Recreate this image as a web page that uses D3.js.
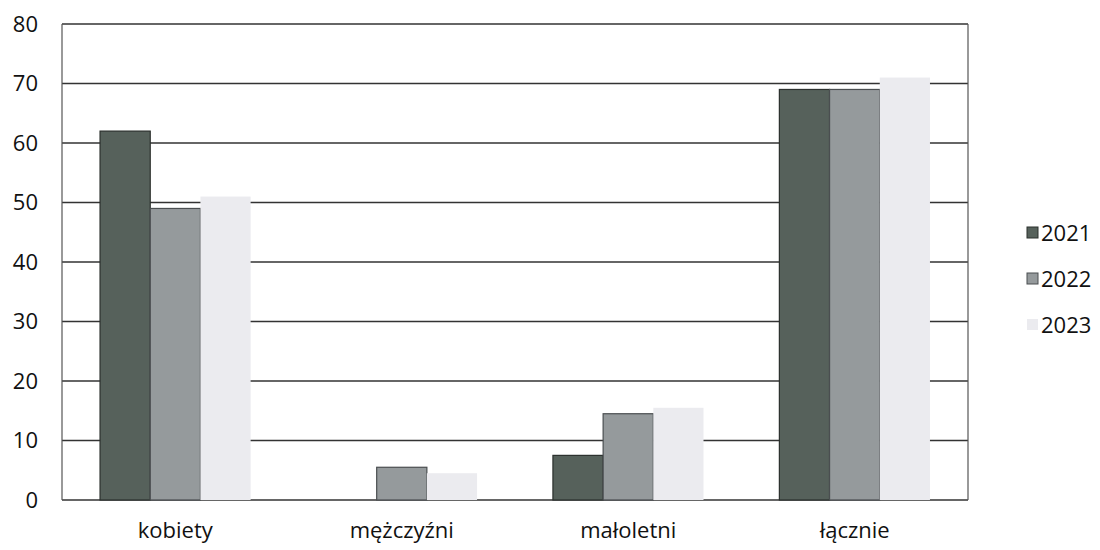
<!DOCTYPE html>
<html>
<head>
<meta charset="utf-8">
<script src="https://cdn.jsdelivr.net/npm/d3@7"></script>
<style>
  body { margin: 0; background: #fff; }
  text { font-family: "Open Sans", "Noto Sans", sans-serif; fill: #111; }
</style>
</head>
<body>
<div id="chart"></div>
<script>
var categories = ["kobiety", "mężczyźni", "małoletni", "łącznie"];
var years = ["2021", "2022", "2023"];
var v2021 = [62, 0, 7.5, 69];
var v2022 = [49, 5.5, 14.5, 69];
var v2023 = [51, 4.5, 15.5, 71];
var yTicks = [0, 10, 20, 30, 40, 50, 60, 70, 80];

var series = [v2021, v2022, v2023];
var colors = ["#56615b", "#959a9c", "#ebebef"];
var strokes = ["#2b302d", "#4a4e50", "none"];

var width = 1100, height = 550;
var margin = {left: 62, right: 132, top: 24, bottom: 50};

var svg = d3.select("#chart").append("svg")
    .attr("width", width)
    .attr("height", height);

var x0 = d3.scaleBand()
    .domain(categories)
    .range([margin.left, width - margin.right])
    .paddingInner(0.335)
    .paddingOuter(0.168);

var x1 = d3.scaleBand()
    .domain(years)
    .range([0, x0.bandwidth()]);

var y = d3.scaleLinear()
    .domain([0, 80])
    .range([height - margin.bottom, margin.top]);

// gridlines
svg.append("g")
    .selectAll("line")
    .data(yTicks)
  .enter().append("line")
    .attr("x1", margin.left)
    .attr("x2", width - margin.right)
    .attr("y1", function (d) { return y(d); })
    .attr("y2", function (d) { return y(d); })
    .attr("stroke", "#333")
    .attr("stroke-width", 1.5);

// frame sides
svg.append("line")
    .attr("x1", margin.left).attr("x2", margin.left)
    .attr("y1", y(80)).attr("y2", y(0))
    .attr("stroke", "#555").attr("stroke-width", 1.2);
svg.append("line")
    .attr("x1", width - margin.right).attr("x2", width - margin.right)
    .attr("y1", y(80)).attr("y2", y(0))
    .attr("stroke", "#555").attr("stroke-width", 1.2);

// bars
var groups = svg.append("g")
    .selectAll("g")
    .data(categories)
  .enter().append("g")
    .attr("transform", function (d) { return "translate(" + x0(d) + ",0)"; });

groups.selectAll("rect")
    .data(function (d, i) {
        return years.map(function (yr, j) { return {year: yr, j: j, value: series[j][i]}; });
    })
  .enter().append("rect")
    .filter(function (d) { return d.value > 0; })
    .attr("x", function (d) { return x1(d.year); })
    .attr("y", function (d) { return y(d.value); })
    .attr("width", x1.bandwidth())
    .attr("height", function (d) { return y(0) - y(d.value); })
    .attr("fill", function (d) { return colors[d.j]; })
    .attr("stroke", function (d) { return strokes[d.j]; })
    .attr("stroke-width", 1.2);

// y tick labels
svg.append("g")
    .selectAll("text")
    .data(yTicks)
  .enter().append("text")
    .attr("x", 38)
    .attr("y", function (d) { return y(d); })
    .attr("dy", "0.35em")
    .attr("text-anchor", "end")
    .style("font-size", "22px")
    .text(function (d) { return d; });

// category labels
svg.append("g")
    .selectAll("text")
    .data(categories)
  .enter().append("text")
    .attr("x", function (d) { return x0(d) + x0.bandwidth() / 2; })
    .attr("y", 530)
    .attr("dy", "0.35em")
    .attr("text-anchor", "middle")
    .style("font-size", "22px")
    .text(function (d) { return d; });

// legend
var legend = svg.append("g")
    .selectAll("g")
    .data(years)
  .enter().append("g")
    .attr("transform", function (d, i) { return "translate(1027," + (233 + i * 46) + ")"; });

legend.append("rect")
    .attr("x", 0)
    .attr("y", -6)
    .attr("width", 11)
    .attr("height", 11)
    .attr("fill", function (d, i) { return colors[i]; })
    .attr("stroke", function (d, i) { return strokes[i]; });

legend.append("text")
    .attr("x", 14)
    .attr("y", 0)
    .attr("dy", "0.35em")
    .style("font-size", "22px")
    .text(function (d) { return d; });
</script>
</body>
</html>
